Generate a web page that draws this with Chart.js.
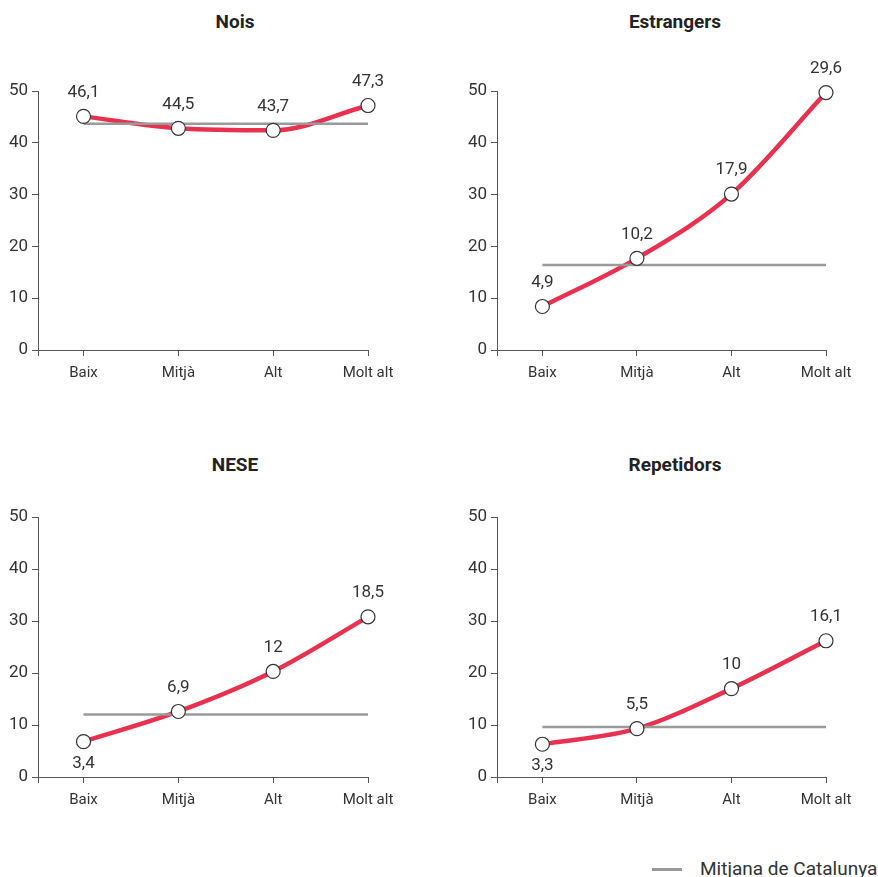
<!DOCTYPE html>
<html>
<head>
<meta charset="utf-8">
<script src="https://cdn.jsdelivr.net/npm/chart.js@4.4.1/dist/chart.umd.min.js"></script>
<style>
  body { margin: 0; background: #fff; width: 878px; height: 877px; overflow: hidden; position: relative; font-family: Roboto, sans-serif; }
  .panel { position: absolute; width: 440px; height: 400px; }
  .titol { position: absolute; width: 300px; margin-left: -150px; text-align: center; font: bold 19px Roboto, sans-serif; color: #222; line-height: 22px; }
  .llegenda { position: absolute; left: 700px; top: 858px; font: 19px Roboto, sans-serif; color: #333; white-space: nowrap; line-height: 22px; }
  .ratlla { position: absolute; left: 652px; top: 868px; width: 30px; height: 3px; background: #999; }
</style>
</head>
<body>

<div class="titol" style="left:235px; top:11px">Nois</div>
<div class="titol" style="left:675px; top:11px">Estrangers</div>
<div class="titol" style="left:235px; top:454px">NESE</div>
<div class="titol" style="left:675px; top:454px">Repetidors</div>

<div class="panel" style="left:0; top:0"><canvas id="g1" width="440" height="400"></canvas></div>
<div class="panel" style="left:440px; top:0"><canvas id="g2" width="440" height="400"></canvas></div>
<div class="panel" style="left:0; top:440px"><canvas id="g3" width="440" height="400"></canvas></div>
<div class="panel" style="left:440px; top:440px"><canvas id="g4" width="440" height="400"></canvas></div>

<div class="ratlla"></div>
<div class="llegenda">Mitjana de Catalunya</div>

<script>
let categories = ["Baix", "Mitjà", "Alt", "Molt alt"];

// posicio dels punts al grafic (escala 0-50)
let nois = [45.1, 42.8, 42.4, 47.2];
let estrangers = [8.4, 17.7, 30.1, 49.7];
let nese = [6.8, 12.6, 20.3, 30.8];
let repetidors = [6.3, 9.3, 17.0, 26.2];

// etiquetes que es mostren sobre cada punt
let etiquetesNois = ["46,1", "44,5", "43,7", "47,3"];
let etiquetesEstrangers = ["4,9", "10,2", "17,9", "29,6"];
let etiquetesNese = ["3,4", "6,9", "12", "18,5"];
let etiquetesRepetidors = ["3,3", "5,5", "10", "16,1"];

// mitjana de Catalunya
let mitjanes = [43.7, 16.4, 12.0, 9.6];

let vermell = "#e8314f";
let gris = "#9a9a9a";
let eix = "#555";

let etiquetesPlugin = {
    id: "etiquetes",
    afterDatasetsDraw(chart, args, opts) {
        let ctx = chart.ctx;
        let meta = chart.getDatasetMeta(2);
        ctx.save();
        ctx.font = "17px Roboto";
        ctx.fillStyle = "#333";
        ctx.textAlign = "center";
        ctx.textBaseline = "middle";
        meta.data.forEach(function (punt, i) {
            let sota = opts.sota.indexOf(i) >= 0;
            ctx.fillText(opts.textos[i], punt.x, sota ? punt.y + 22 : punt.y - 24);
        });
        ctx.restore();
    }
};

function grafic(id, valors, textos, mitjana, area, sota) {
    let punts = valors.map(function (v, i) { return { x: i, y: v }; });
    let linia = categories.map(function (c, i) { return { x: i, y: mitjana }; });
    let xMin = -0.48;

    new Chart(document.getElementById(id), {
        type: "line",
        data: {
            datasets: [
                { data: punts, borderColor: vermell, borderWidth: 4.5, pointRadius: 0,
                  cubicInterpolationMode: "monotone", clip: false, order: 3 },
                { data: linia, borderColor: gris, borderWidth: 2.5, pointRadius: 0, clip: false, order: 2 },
                { data: punts, showLine: false, pointRadius: 7, pointBackgroundColor: "#fff",
                  pointBorderColor: "#333", pointBorderWidth: 1.2, clip: false, order: 1 }
            ]
        },
        options: {
            responsive: false,
            animation: false,
            layout: { padding: { top: area.top, right: 440 - area.right, left: 0, bottom: 0 } },
            plugins: {
                legend: { display: false },
                tooltip: { enabled: false },
                etiquetes: { textos: textos, sota: sota }
            },
            scales: {
                x: {
                    type: "linear",
                    min: xMin,
                    max: 3,
                    afterFit: function (s) { s.height = 400 - area.bottom; },
                    afterBuildTicks: function (s) {
                        s.ticks = [xMin, 0, 1, 2, 3].map(function (v) { return { value: v }; });
                    },
                    ticks: {
                        padding: 8,
                        color: "#333",
                        font: { family: "Roboto", size: 15 },
                        callback: function (v) { return v >= 0 ? categories[v] : ""; }
                    },
                    grid: { drawOnChartArea: false, tickLength: 6, color: eix },
                    border: { color: eix }
                },
                y: {
                    min: 0,
                    max: 50,
                    afterFit: function (s) { s.width = area.left; },
                    ticks: { stepSize: 10, padding: 4, color: "#333", font: { family: "Roboto", size: 17 } },
                    grid: { drawOnChartArea: false, tickLength: 6, color: eix },
                    border: { color: eix }
                }
            }
        },
        plugins: [etiquetesPlugin]
    });
}

grafic("g1", nois, etiquetesNois, mitjanes[0], { left: 38, top: 91, right: 368, bottom: 350 }, []);
grafic("g2", estrangers, etiquetesEstrangers, mitjanes[1], { left: 57, top: 91, right: 386, bottom: 350 }, []);
grafic("g3", nese, etiquetesNese, mitjanes[2], { left: 38, top: 77, right: 368, bottom: 337 }, [0]);
grafic("g4", repetidors, etiquetesRepetidors, mitjanes[3], { left: 57, top: 77, right: 386, bottom: 337 }, [0]);
</script>
</body>
</html>
